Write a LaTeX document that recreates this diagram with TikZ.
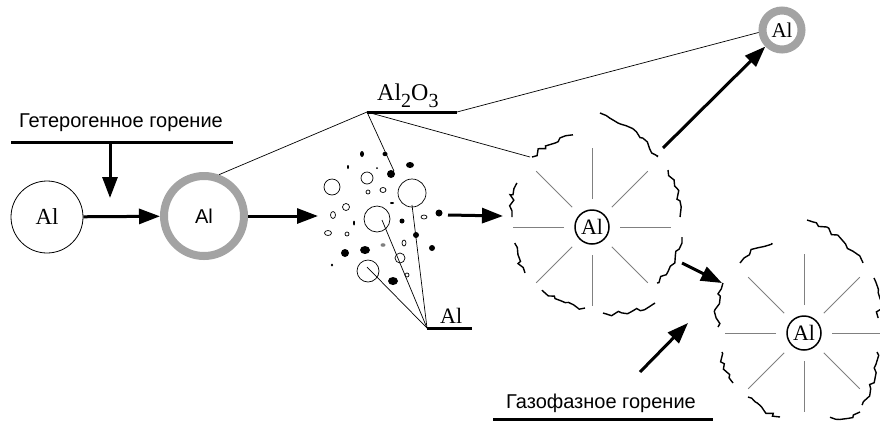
\documentclass[tikz,border=0pt]{standalone}
\usepackage{fontspec}
\setmainfont{Liberation Serif}
\setsansfont{Liberation Sans}
\usetikzlibrary{arrows.meta,calc,decorations.pathmorphing}

\begin{document}
\begin{tikzpicture}[x=1pt, y=-1pt,
  arr/.style={-{Triangle[length=21pt,width=15pt]}, line width=3pt},
  bar/.style={line width=3pt},
  thin/.style={line width=0.7pt},
  ray/.style={gray, line width=1pt},
  edge/.style={line width=1.4pt, decorate,
    decoration={random steps, segment length=5pt, amplitude=2.6pt}},
  atom/.style={circle, draw, line width=0.8pt, minimum size=72pt, inner sep=0pt,
    font=\fontsize{23}{23}\selectfont},
  shell/.style={circle, draw=gray!72, line width=8pt, minimum size=80pt, inner sep=0pt,
    font=\sffamily\fontsize{20}{20}\selectfont},
  core/.style={circle, draw, line width=1.5pt, minimum size=34pt, inner sep=0pt,
    font=\fontsize{22}{22}\selectfont},
  lbl/.style={font=\sffamily\fontsize{20}{24}\selectfont, inner sep=0pt, anchor=base}]
\useasboundingbox (0,0) rectangle (880,424);
\pgfmathsetseed{11}
% Particles
\node[atom] (alA) at (47,217) {Al};
\node[shell] (alB) at (204,216) {Al};
\node[core] (alC) at (592,227) {Al};
\node[core] (alD) at (804,333) {Al};
\node[shell, minimum size=39pt, font=\fontsize{21}{21}\selectfont] (alE) at (782,30) {Al};
% Heterogeneous stage label
\node[lbl] (hetero) at (121,127) {Гетерогенное горение};
\coordinate (hetL) at (11,142);
\coordinate (hetR) at (233,142);
\coordinate (hetdown) at (110,142);
\coordinate (hetin) at (110,198);
\draw[bar] (hetL) -- (hetR);
% Gas phase stage label
\node[lbl] (gas) at (601,408) {Газофазное горение};
\coordinate (gasL) at (493,419);
\coordinate (gasR) at (713,419);
\draw[bar] (gasL) -- (gasR);
% Oxide cloud
\foreach \x/\y/\r in {367/178/6, 332/187/8, 400/258/5, 346/207/3.5, 368/192/2,
    347/234/2, 407/275/2}
  \draw[thin] (\x,\y) circle (\r);
\foreach \x/\y/\a/\b in {383/190/3/2.5, 333/215/2.5/3.5, 328/233/3.5/2.5,
    404/243/2/3, 424/217/3/2}
  \draw[thin] (\x,\y) ellipse ({\a} and {\b});
\foreach \x/\y/\r in {402/221/2.5, 416/235/3, 439/213/3.5, 432/248/3, 345/253/4,
    377/168/1}
  \fill (\x,\y) circle (\r);
\foreach \x/\y/\a/\b in {362/154/2/3, 410/165/4/3, 365/250/5/4, 393/281/5/4,
    348/167/1/2, 354/223/1/2.5, 332/265/1.2/1.5, 392/203/2/1, 385/154/2.5/2.2}
  \fill (\x,\y) ellipse ({\a} and {\b});
\fill[gray] (383,245) ellipse (2.5 and 1.8);
\node[circle, fill, minimum size=8pt, inner sep=0pt] (ox1) at (391,174) {};
\node[circle, draw, thin, minimum size=28pt, inner sep=0pt] (d1) at (412,193) {};
\node[circle, draw, thin, minimum size=26pt, inner sep=0pt] (d2) at (377,219) {};
\node[circle, draw, thin, minimum size=22pt, inner sep=0pt] (d3) at (368,271) {};
% Oxide label
\node[inner sep=0pt, anchor=base west, font=\fontsize{24}{24}\selectfont] (oxide) at (377,100)
  {Al\raisebox{-0.3em}{\fontsize{20}{20}\selectfont 2}O\raisebox{-0.3em}{\fontsize{20}{20}\selectfont 3}};
\coordinate (oxfoot) at (367,112);
\coordinate (oxend) at (457,112);
\draw[bar] (oxfoot) -- (oxend);
% Metal label
\node[inner sep=0pt, anchor=base west, font=\fontsize{22}{22}\selectfont] (metal) at (440,323) {Al};
\coordinate (alfoot) at (427,328);
\coordinate (alend) at (472,328);
\draw[bar] (alfoot) -- (alend);
\draw[thin] (alfoot) -- ($(d1)+(0,12)$);
\draw[thin] (alfoot) -- ($(d2)+(5,1)$);
\draw[thin] (alfoot) -- ($(d3)+(-1,-4)$);
% Flames
\foreach \c in {alC, alD}
  \foreach \a in {0,45,...,315}
    \draw[ray] ($(\c)+(\a:28)$) -- ($(\c)+(\a:79)$);
\foreach \xa/\ya/\xb/\yb in {600/113/657/157, 668/170/680/217, 682/237/657/283,
    655/303/603/313, 585/308/542/290, 525/273/515/243, 512/217/517/183,
    532/157/573/135,
    807/220/863/263, 874/278/878/318, 877/352/862/405, 860/412/830/417,
    780/417/748/397, 733/383/722/352, 718/327/723/283, 740/263/772/243}
  \draw[edge] (\xa,\ya) to[bend left=15] (\xb,\yb);
\coordinate (flame) at (530,157);
% Leader lines
\draw[thin] (oxfoot) -- (alB.70);
\draw[thin] (oxfoot) -- (flame);
\draw[thin] (oxfoot) -- (ox1.north east);
\draw[thin] (oxend) -- (alE.186);
% Arrows
\coordinate (cloudin) at (318,216);
\coordinate (cloudout) at (448,215);
\coordinate (flamein) at (503,216);
\coordinate (flameup) at (663,148);
\coordinate (flamedown) at (682,263);
\coordinate (flame2in) at (722,283);
\coordinate (gasup) at (640,372);
\coordinate (gasin) at (688,323);
\draw[arr] (hetdown) -- (hetin);
\draw[arr] (alA) -- (alB);
\draw[arr] (alB) -- (cloudin);
\draw[arr] (cloudout) -- (flamein);
\draw[arr] (flameup) -- (alE);
\draw[arr] (flamedown) -- (flame2in);
\draw[arr] (gasup) -- (gasin);
\end{tikzpicture}
\end{document}
